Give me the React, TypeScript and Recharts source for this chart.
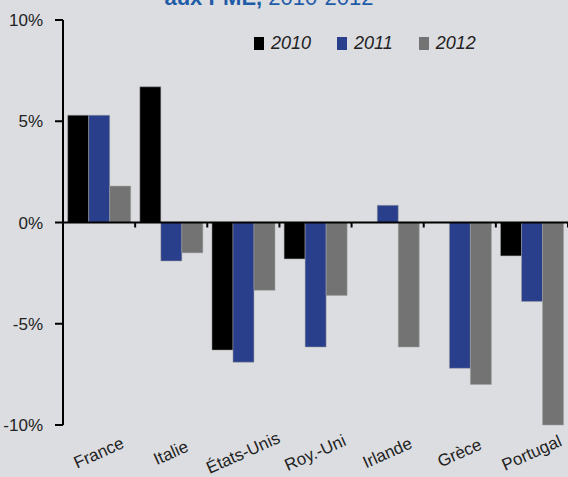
import { BarChart, Bar, XAxis, YAxis, ReferenceLine } from 'recharts';

const countries = ['France', 'Italie', 'États-Unis', 'Roy.-Uni', 'Irlande', 'Grèce', 'Portugal'];
const values2010 = [5.3, 6.7, -6.3, -1.8, null, null, -1.65];
const values2011 = [5.3, -1.9, -6.9, -6.15, 0.85, -7.2, -3.9];
const values2012 = [1.8, -1.5, -3.35, -3.6, -6.15, -8.0, -10.0];
const yTicks = [-10, -5, 0, 5, 10];

const years = [
  { key: 'y2010', label: '2010', color: '#000000' },
  { key: 'y2011', label: '2011', color: '#2a3f8b' },
  { key: 'y2012', label: '2012', color: '#737373' },
];

const data = countries.map((name, i) => ({
  name,
  y2010: values2010[i],
  y2011: values2011[i],
  y2012: values2012[i],
}));

const W = 568;
const H = 477;
const TOP = 20;
const AXIS_W = 63;
const X_H = 52;
const PLOT_H = H - TOP - X_H;
const BAND = (W - AXIS_W) / countries.length;
const ZERO_Y = TOP + PLOT_H / 2;
const FONT = "'Liberation Sans', Arial, sans-serif";

function CountryTick(props: any) {
  const { x, payload } = props;
  const ly = 458;
  return (
    <g>
      <line x1={x + BAND / 2} x2={x + BAND / 2} y1={ZERO_Y} y2={ZERO_Y + 5} stroke="#000" strokeWidth={2} />
      <text
        x={x + 2}
        y={ly}
        textAnchor="middle"
        transform={`rotate(-24, ${x + 2}, ${ly})`}
        fontSize={17}
        fontFamily={FONT}
        fill="#222"
      >
        {payload.value}
      </text>
    </g>
  );
}

function ChartLegend() {
  return (
    <div
      style={{
        position: 'absolute',
        left: 254,
        top: 33,
        display: 'flex',
        fontFamily: FONT,
        fontSize: 18,
        fontStyle: 'italic',
        color: '#222',
        lineHeight: '20px',
      }}
    >
      {years.map((y, i) => (
        <div key={y.key} style={{ display: 'flex', alignItems: 'center', marginRight: i < 2 ? 26 : 0 }}>
          <span style={{ width: 10, height: 13, background: y.color, display: 'inline-block', marginRight: 7 }} />
          <span>{y.label}</span>
        </div>
      ))}
    </div>
  );
}

export default function App() {
  return (
    <div style={{ position: 'absolute', left: 0, top: 0, width: W, height: H, background: '#dcdde0', overflow: 'hidden' }}>
      <svg width={W} height={30} style={{ position: 'absolute', left: 0, top: 0 }}>
        <text x={269} y={5} textAnchor="middle" fontFamily={FONT} fontSize={22} fill="#1f5ca8">
          <tspan fontWeight="bold">aux PME,</tspan>
          <tspan> 2010-2012</tspan>
        </text>
      </svg>
      <BarChart
        width={W}
        height={H}
        data={data}
        margin={{ top: TOP, right: 0, bottom: 0, left: 0 }}
        barCategoryGap="6.5%"
        barGap={0}
      >
        <XAxis
          dataKey="name"
          height={X_H}
          axisLine={false}
          tickLine={false}
          interval={0}
          tick={<CountryTick />}
        />
        <YAxis
          width={AXIS_W}
          domain={[-10, 10]}
          ticks={yTicks}
          tickFormatter={(v: number) => `${v}%`}
          axisLine={{ stroke: '#000', strokeWidth: 2 }}
          tickLine={{ stroke: '#000', strokeWidth: 2 }}
          tickSize={8}
          tickMargin={12}
          tick={{ fill: '#222', fontSize: 17, fontFamily: FONT }}
        />
        {years.map((y) => (
          <Bar key={y.key} dataKey={y.key} fill={y.color} stroke="#a0a0a0" strokeWidth={0.5} isAnimationActive={false} />
        ))}
        <ReferenceLine y={0} stroke="#000" strokeWidth={2} />
      </BarChart>
      <ChartLegend />
    </div>
  );
}
